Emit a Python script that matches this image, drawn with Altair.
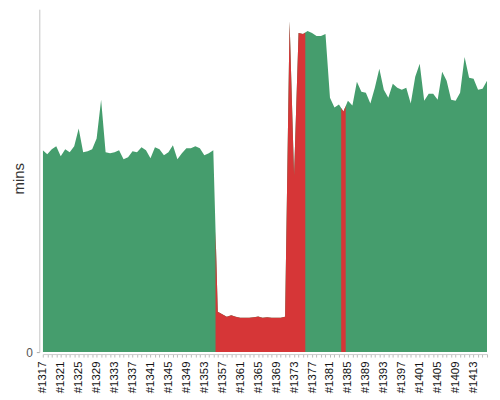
import altair as alt
import pandas as pd

GREEN = "#459d6d"
RED = "#d63637"

builds = list(range(1317, 1417))

minutes = [
    20.3, 19.9, 20.4, 20.7, 19.7, 20.4, 20.1, 20.7, 22.5, 20.1,   # 1317-1326
    20.2, 20.4, 21.5, 25.4, 20.1, 20.0, 20.1, 20.3, 19.4, 19.6,   # 1327-1336
    20.2, 20.1, 20.6, 20.3, 19.5, 20.6, 20.4, 19.8, 20.1, 20.8,   # 1337-1346
    19.4, 20.0, 20.5, 20.5, 20.7, 20.5, 19.8, 20.0, 20.3, 4.05,   # 1347-1356
    3.8, 3.55, 3.7, 3.55, 3.45, 3.45, 3.45, 3.5, 3.57, 3.45,      # 1357-1366
    3.5, 3.45, 3.45, 3.45, 3.55, 33.3, 17.8, 32.1, 32.0, 32.3,    # 1367-1376
    32.1, 31.8, 31.8, 32.0, 25.6, 24.6, 24.9, 24.2, 25.3, 24.8,   # 1377-1386
    27.2, 26.2, 26.1, 25.0, 26.6, 28.5, 26.4, 25.6, 27.0, 26.6,   # 1387-1396
    26.4, 26.6, 25.0, 27.7, 29.0, 25.3, 26.0, 26.0, 25.4, 28.2,   # 1397-1406
    27.3, 25.4, 25.3, 26.1, 29.7, 27.6, 27.5, 26.4, 26.5, 27.3,   # 1407-1416
]

status = (["success"] * 39 + ["failure"] * 20 + ["success"] * 8
          + ["failure"] + ["success"] * 32)

# consecutive-status run id (so each failed run is one polygon)
runs = []
rid = 0
for i, s in enumerate(status):
    if i > 0 and s != status[i - 1]:
        rid += 1
    runs.append(rid)

df = pd.DataFrame({"build": builds, "mins": minutes, "status": status, "run": runs})

FONT = "Liberation Sans"
x_scale = alt.Scale(domain=[builds[0], builds[-1]], nice=False, zero=False)
y_scale = alt.Scale(domain=[0, 34.5], nice=False, zero=True)

x_axis = alt.Axis(
    values=builds,
    labelExpr="(datum.value - 1317) % 4 == 0 ? '#' + datum.value : ''",
    labelAngle=270,
    labelAlign="right",
    labelBaseline="middle",
    labelFont=FONT,
    labelFontSize=11.5,
    labelColor="#111111",
    labelOverlap=False,
    labelPadding=4,
    tickSize=3,
    tickColor="#bbbbbb",
    domainColor="#cccccc",
    grid=False,
    offset=2,
    title=None,
)
y_axis = alt.Axis(
    values=[0],
    tickSize=3,
    tickColor="#aaaaaa",
    domainColor="#c4c4c4",
    labelFont=FONT,
    labelFontSize=12,
    labelColor="#555555",
    labelPadding=4,
    grid=False,
    offset=3.5,
    title="mins",
    titleFont=FONT,
    titleFontSize=15,
    titleFontWeight="normal",
    titleColor="#333333",
    titleAngle=270,
    titleAlign="center",
    titleBaseline="middle",
    titleX=-21,
    titleY=170,
)

green = alt.Chart(df).mark_area(color=GREEN, clip=True).encode(
    x=alt.X("build:Q", scale=x_scale, axis=x_axis),
    y=alt.Y("mins:Q", scale=y_scale, axis=y_axis, stack=None),
)

red = (
    alt.Chart(df)
    .transform_window(
        window=[
            alt.WindowFieldDef(op="lag", field="mins", **{"as": "prev"}),
            alt.WindowFieldDef(op="lead", field="mins", **{"as": "nxt"}),
        ],
        sort=[alt.SortField("build")],
    )
    .transform_filter(alt.datum.status == "failure")
    .transform_calculate(
        xs="[datum.build - 0.5, datum.build, datum.build + 0.5]",
        ys="[(datum.prev + datum.mins) / 2, datum.mins, (datum.mins + datum.nxt) / 2]",
    )
    .transform_flatten(["xs", "ys"])
    .mark_area(color=RED, clip=True)
    .encode(
        x=alt.X("xs:Q", scale=x_scale, axis=x_axis),
        y=alt.Y("ys:Q", scale=y_scale, axis=y_axis, stack=None),
        detail="run:N",
    )
)

chart = (
    alt.layer(green, red)
    .properties(
        width=447,
        height=345,
        autosize=alt.AutoSizeParams(type="none"),
        padding={"left": 35, "top": 0, "right": 5, "bottom": 47},
        background="white",
    )
    .configure_view(stroke=None)
)

chart.save("out.html", embed_options={"renderer": "svg", "actions": False})
